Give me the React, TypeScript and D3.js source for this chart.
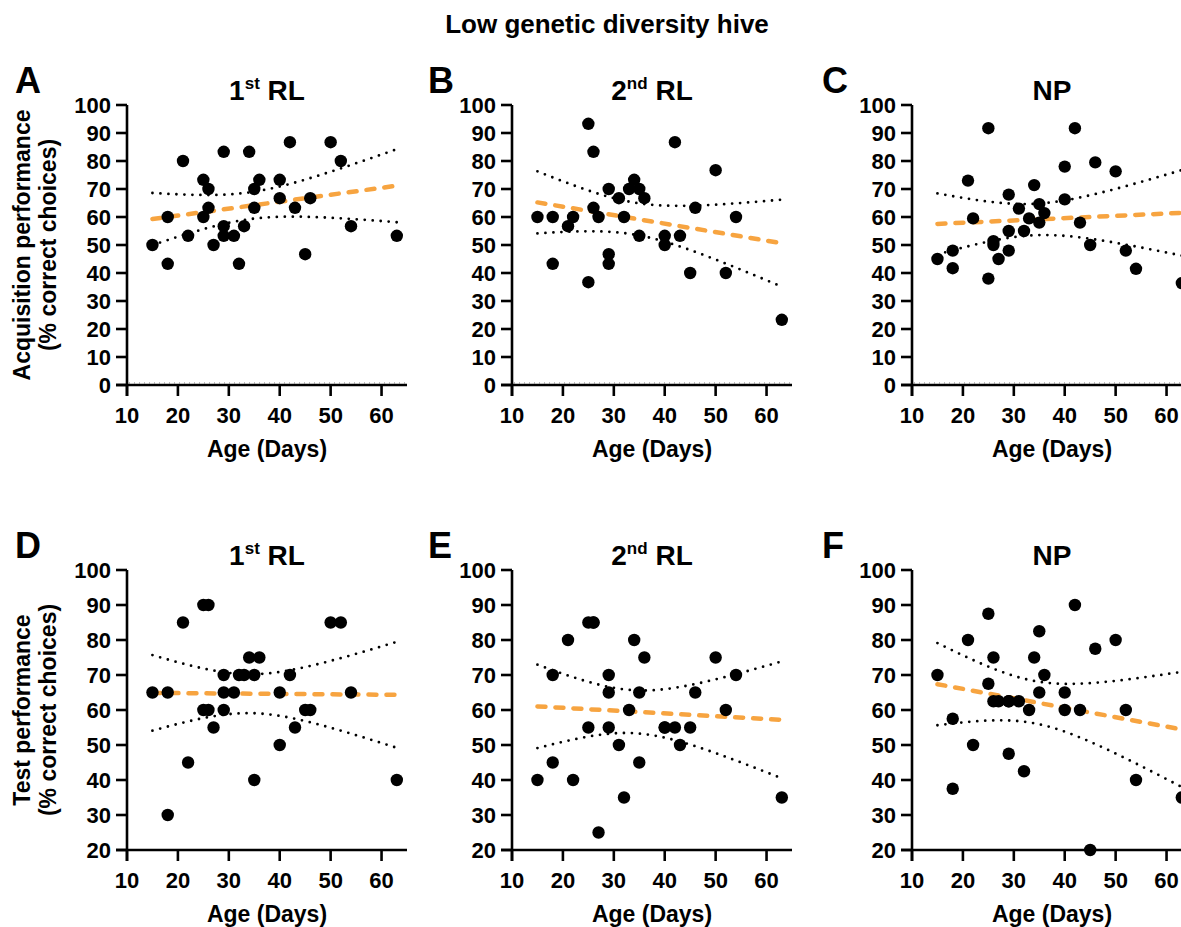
import React from "react";
import * as d3 from "d3";

// Age of each tested bee (days), shared by all six panels
const ageDays = [15, 18, 18, 21, 22, 25, 25, 26, 26, 27, 29, 29, 29, 31, 32, 33, 34, 35, 35, 36, 40, 40, 42, 43, 45, 46, 50, 52, 54, 63];

// Acquisition performance (% correct choices)
const acqFirstRL = [50, 60, 43.3, 80, 53.3, 73.3, 60, 70, 63.3, 50, 83.3, 56.7, 53.3, 53.3, 43.3, 56.7, 83.3, 70, 63.3, 73.3, 73.3, 66.7, 86.7, 63.3, 46.7, 66.7, 86.7, 80, 56.7, 53.3];
const acqSecondRL = [60, 60, 43.3, 56.7, 60, 93.3, 36.7, 83.3, 63.3, 60, 70, 46.7, 43.3, 66.7, 60, 70, 73.3, 70, 53.3, 66.7, 53.3, 50, 86.7, 53.3, 40, 63.3, 76.7, 40, 60, 23.3];
const acqNP = [45, 48, 41.7, 73, 59.5, 91.7, 38, 51.4, 50, 45, 68, 55, 48, 63, 55, 59.5, 71.4, 64.6, 58, 61.4, 78, 66.3, 91.7, 58, 50, 79.5, 76.3, 48, 41.5, 36.4];

// Test performance (% correct choices)
const testFirstRL = [65, 65, 30, 85, 45, 90, 60, 90, 60, 55, 70, 65, 60, 65, 70, 70, 75, 70, 40, 75, 65, 50, 70, 55, 60, 60, 85, 85, 65, 40];
const testSecondRL = [40, 70, 45, 80, 40, 85, 55, 85, 85, 25, 70, 65, 55, 50, 35, 60, 80, 65, 45, 75, 55, 55, 55, 50, 55, 65, 75, 60, 70, 35];
const testNP = [70, 57.5, 37.5, 80, 50, 87.5, 67.5, 75, 62.5, 62.5, 62.5, 47.5, 62.5, 62.5, 42.5, 60, 75, 82.5, 65, 70, 65, 60, 90, 60, 20, 77.5, 80, 60, 40, 35];

const xTicks = [10, 20, 30, 40, 50, 60];
const yTicksAcq = [0, 10, 20, 30, 40, 50, 60, 70, 80, 90, 100];
const yTicksTest = [20, 30, 40, 50, 60, 70, 80, 90, 100];

const FONT = "'Liberation Sans', Arial, Helvetica, sans-serif";
const PW = 280;
const PH = 280;

// two-sided 95% Student t critical value (Cornish-Fisher expansion)
function tCrit(df: number) {
  const z = 1.959964;
  return (
    z +
    (z ** 3 + z) / (4 * df) +
    (5 * z ** 5 + 16 * z ** 3 + 3 * z) / (96 * df * df)
  );
}

// ordinary least squares with 95% confidence band of the fitted mean
function linearFit(xs: number[], ys: number[]) {
  const n = xs.length;
  const mx = d3.mean(xs)!;
  const my = d3.mean(ys)!;
  let sxx = 0;
  let sxy = 0;
  for (let i = 0; i < n; i++) {
    sxx += (xs[i] - mx) ** 2;
    sxy += (xs[i] - mx) * (ys[i] - my);
  }
  const slope = sxy / sxx;
  const intercept = my - slope * mx;
  let sse = 0;
  for (let i = 0; i < n; i++) sse += (ys[i] - (intercept + slope * xs[i])) ** 2;
  const s = Math.sqrt(sse / (n - 2));
  const t = tCrit(n - 2);
  const [x0, x1] = d3.extent(xs) as [number, number];
  const grid = d3.range(81).map((i) => x0 + ((x1 - x0) * i) / 80);
  const band = grid.map((x) => {
    const yh = intercept + slope * x;
    const h = t * s * Math.sqrt(1 / n + (x - mx) ** 2 / sxx);
    return { x, yh, lo: yh - h, hi: yh + h };
  });
  return { slope, intercept, x0, x1, band };
}

type PanelProps = {
  left: number;
  top: number;
  letter: string;
  letterX: number;
  title: string;
  sup?: string;
  yDomain: [number, number];
  yTicks: number[];
  values: number[];
  yTitle?: [string, string];
  zeroLine?: boolean;
};

function Panel({ left, top, letter, letterX, title, sup, yDomain, yTicks, values, yTitle, zeroLine }: PanelProps) {
  const x = d3.scaleLinear().domain([10, 65]).range([0, PW]);
  const y = d3.scaleLinear().domain(yDomain).range([PH, 0]);
  const fit = linearFit(ageDays, values);
  const line = d3
    .line<[number, number]>()
    .x((d) => x(d[0]))
    .y((d) => y(d[1]));
  const fitPath = line([
    [fit.x0, fit.intercept + fit.slope * fit.x0],
    [fit.x1, fit.intercept + fit.slope * fit.x1],
  ])!;
  const loPath = line(fit.band.map((b) => [b.x, b.lo] as [number, number]))!;
  const hiPath = line(fit.band.map((b) => [b.x, b.hi] as [number, number]))!;
  const tick = 11;
  const axisW = 2.6;

  return (
    <g>
      <text x={letterX} y={top - 12} fontSize={36} fontWeight="bold" fontFamily={FONT}>
        {letter}
      </text>
      <g transform={`translate(${left},${top})`}>
        <text x={PW / 2} y={-5} textAnchor="middle" fontSize={28} fontWeight="bold" fontFamily={FONT}>
          {sup ? (
            <>
              {title.split(" ")[0]}
              <tspan fontSize={17} dy={-11}>{sup}</tspan>
              <tspan dy={11}>{" " + title.split(" ").slice(1).join(" ")}</tspan>
            </>
          ) : (
            title
          )}
        </text>

        {/* y axis */}
        <line x1={0} x2={0} y1={0} y2={PH + tick} stroke="#000" strokeWidth={axisW} />
        {yTicks.map((v) => (
          <g key={v} transform={`translate(0,${y(v)})`}>
            <line x1={-tick} x2={0} stroke="#000" strokeWidth={axisW} />
            <text x={-16} dy="0.36em" textAnchor="end" fontSize={22} fontWeight="bold" fontFamily={FONT}>
              {v}
            </text>
          </g>
        ))}

        {/* x axis */}
        <line x1={-tick} x2={PW} y1={PH} y2={PH} stroke="#000" strokeWidth={axisW} />
        {zeroLine && (
          <line x1={2} x2={PW} y1={PH - 2} y2={PH - 2} stroke="#777" strokeWidth={1} strokeDasharray="1 4" />
        )}
        {xTicks.map((v) => (
          <g key={v} transform={`translate(${x(v)},${PH})`}>
            <line y1={0} y2={tick} stroke="#000" strokeWidth={axisW} />
            <text y={38} textAnchor="middle" fontSize={22} fontWeight="bold" fontFamily={FONT}>
              {v}
            </text>
          </g>
        ))}
        <text x={PW / 2} y={PH + 72} textAnchor="middle" fontSize={23} fontWeight="bold" fontFamily={FONT}>
          Age (Days)
        </text>

        {/* regression line and 95% confidence band */}
        <path d={loPath} fill="none" stroke="#000" strokeWidth={2.8} strokeDasharray="0 8" strokeLinecap="round" />
        <path d={hiPath} fill="none" stroke="#000" strokeWidth={2.8} strokeDasharray="0 8" strokeLinecap="round" />
        <path d={fitPath} fill="none" stroke="#F7A440" strokeWidth={4.5} strokeDasharray="8 10" strokeLinecap="round" />

        {values.map((v, i) => (
          <circle key={i} cx={x(ageDays[i])} cy={y(v)} r={6.2} fill="#000" />
        ))}
      </g>
      {yTitle && (
        <g fontSize={23} fontWeight="bold" fontFamily={FONT} textAnchor="middle">
          <text transform={`translate(29.5,${top + PH / 2}) rotate(-90)`}>{yTitle[0]}</text>
          <text transform={`translate(55.5,${top + PH / 2}) rotate(-90)`}>{yTitle[1]}</text>
        </g>
      )}
    </g>
  );
}

export default function App() {
  const lefts = [127, 512, 912];
  const letterXs = [15, 428, 822];
  const tops = [105, 570];
  return (
    <svg
      width={1181}
      height={927}
      style={{ position: "absolute", left: 0, top: 0, background: "#fff" }}
    >
      <rect width={1181} height={927} fill="#fff" />
      <text x={607} y={33} textAnchor="middle" fontSize={26} fontWeight="bold" fontFamily={FONT}>
        Low genetic diversity hive
      </text>

      <Panel left={lefts[0]} top={tops[0]} letter="A" letterX={letterXs[0]} title="1 RL" sup="st" yDomain={[0, 100]} yTicks={yTicksAcq} values={acqFirstRL} yTitle={["Acquisition performance", "(% correct choices)"]} zeroLine />
      <Panel left={lefts[1]} top={tops[0]} letter="B" letterX={letterXs[1]} title="2 RL" sup="nd" yDomain={[0, 100]} yTicks={yTicksAcq} values={acqSecondRL} zeroLine />
      <Panel left={lefts[2]} top={tops[0]} letter="C" letterX={letterXs[2]} title="NP" yDomain={[0, 100]} yTicks={yTicksAcq} values={acqNP} zeroLine />

      <Panel left={lefts[0]} top={tops[1]} letter="D" letterX={letterXs[0]} title="1 RL" sup="st" yDomain={[20, 100]} yTicks={yTicksTest} values={testFirstRL} yTitle={["Test performance", "(% correct choices)"]} />
      <Panel left={lefts[1]} top={tops[1]} letter="E" letterX={letterXs[1]} title="2 RL" sup="nd" yDomain={[20, 100]} yTicks={yTicksTest} values={testSecondRL} />
      <Panel left={lefts[2]} top={tops[1]} letter="F" letterX={letterXs[2]} title="NP" yDomain={[20, 100]} yTicks={yTicksTest} values={testNP} />
    </svg>
  );
}
